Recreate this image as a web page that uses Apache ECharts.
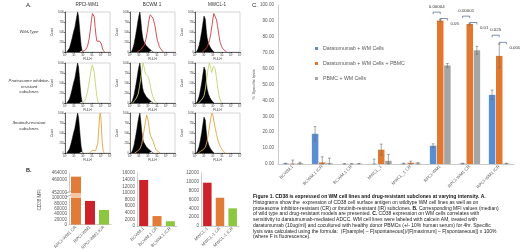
<!DOCTYPE html>
<html>
<head>
<meta charset="utf-8">
<script src="https://cdn.jsdelivr.net/npm/echarts@6/dist/echarts.min.js"></script>
<style>
html, body { margin: 0; padding: 0; background: #fff; }
#main { width: 520px; height: 252px; }
</style>
</head>
<body>
<div id="main"></div>
<script>
// ---- A. histograms (x in log decades, y in % of max count)
var histCols = ['RPCI-WM1', 'BCWM.1', 'MWCL-1'];
var histRows = [['Wild-Type'], ['Proteasome inhibitor-', 'resistant', 'subclones'], ['Ibrutinib-resistant', 'subclones']];
var histColors = ['#cf3d43', '#c5d472', '#e3a43e'];
var histTicks = ['10\u2070', '10\u00b9', '10\u00b2', '10\u00b3', '10\u2074', '10\u2075'];
var countTicks = ['0', '250', '500', '750', '1000'];

var isoRpci = [[0.2,0],[0.35,4],[0.5,10],[0.65,22],[0.8,35],[0.95,50],[1.1,62],[1.2,75],[1.3,88],[1.4,100],[1.5,90],[1.6,65],[1.7,38],[1.8,15],[1.9,4],[2.0,0]];
var isoBcwm = [[0.15,0],[0.3,8],[0.45,20],[0.6,38],[0.75,58],[0.9,80],[1.0,92],[1.1,100],[1.2,80],[1.3,55],[1.4,38],[1.5,28],[1.65,22],[1.8,16],[1.95,12],[2.1,9],[2.25,6],[2.4,3],[2.6,0]];
var isoMwcl = [[0.15,0],[0.3,6],[0.45,16],[0.6,32],[0.75,52],[0.9,75],[1.0,90],[1.05,95],[1.15,82],[1.25,55],[1.35,35],[1.5,22],[1.65,14],[1.8,8],[1.95,4],[2.1,0]];

var wtRpci = [[1.9,0],[2.1,2],[2.3,6],[2.5,14],[2.7,35],[2.85,62],[2.95,82],[3.05,96],[3.15,100],[3.25,88],[3.35,62],[3.45,40],[3.55,27],[3.65,22],[3.75,24],[3.85,27],[3.95,26],[4.05,20],[4.15,10],[4.25,4],[4.4,0]];
var wtBcwm = [[0.8,0],[1.0,3],[1.2,6],[1.4,10],[1.6,18],[1.8,35],[1.95,55],[2.05,72],[2.15,85],[2.25,93],[2.35,88],[2.45,95],[2.55,85],[2.65,80],[2.75,68],[2.85,55],[2.95,40],[3.05,28],[3.15,22],[3.25,14],[3.4,8],[3.55,3],[3.7,0]];
var wtMwcl = [[0.8,0],[1.0,4],[1.2,8],[1.4,14],[1.6,28],[1.75,45],[1.9,68],[2.0,85],[2.1,96],[2.2,100],[2.3,92],[2.4,80],[2.5,66],[2.6,50],[2.7,36],[2.8,24],[2.95,14],[3.1,8],[3.3,3],[3.5,0]];

var crRpci = [[1.9,0],[2.05,2],[2.2,6],[2.35,14],[2.5,28],[2.65,48],[2.8,70],[2.95,88],[3.05,95],[3.15,90],[3.25,76],[3.35,55],[3.45,34],[3.55,16],[3.65,5],[3.75,0]];
var crBcwm = [[0.3,0],[0.5,6],[0.7,12],[0.9,22],[1.05,40],[1.2,62],[1.35,85],[1.45,100],[1.55,92],[1.65,78],[1.75,72],[1.85,74],[1.95,70],[2.05,66],[2.15,55],[2.3,38],[2.45,22],[2.6,12],[2.75,5],[2.95,0]];
var crMwcl = [[0.4,0],[0.6,5],[0.8,10],[1.0,18],[1.15,35],[1.3,60],[1.45,85],[1.6,100],[1.75,88],[1.85,76],[1.95,80],[2.05,92],[2.15,95],[2.25,85],[2.4,60],[2.55,35],[2.7,15],[2.85,5],[2.95,0]];

var irRpci = [[2.7,0],[2.9,3],[3.1,7],[3.25,10],[3.4,6],[3.55,8],[3.65,25],[3.75,60],[3.85,92],[3.92,100],[4.0,85],[4.08,50],[4.16,20],[4.25,4],[4.35,0]];
var irBcwm = [[0.5,0],[0.8,4],[1.1,10],[1.3,22],[1.45,40],[1.6,62],[1.75,82],[1.85,95],[1.95,90],[2.05,78],[2.15,58],[2.25,45],[2.35,42],[2.45,40],[2.6,28],[2.75,16],[2.9,8],[3.1,3],[3.35,0]];
var irMwcl = [[0.35,0],[0.6,4],[0.9,8],[1.15,15],[1.35,30],[1.5,50],[1.65,72],[1.78,90],[1.9,100],[2.0,94],[2.1,80],[2.25,62],[2.4,46],[2.55,32],[2.7,22],[2.85,14],[3.05,7],[3.2,3],[3.35,0]];

var isoSets = [isoRpci, isoBcwm, isoMwcl];
var stainSets = [[wtRpci, wtBcwm, wtMwcl], [crRpci, crBcwm, crMwcl], [irRpci, irBcwm, irMwcl]];

// ---- B. CD38 MFI
var mfiRpciNames = ['RPCI-WM1 CR', 'RPCI-WM1', 'RPCI-WM1 ICR'];
var mfiRpci = [461800, 89000, 55000];
var mfiBcwmNames = ['BCWM.1', 'BCWM.1 CR', 'BCWM.1 ICR'];
var mfiBcwm = [13900, 3000, 1450];
var mfiMwclNames = ['MWCL-1', 'MWCL-1 CR', 'MWCL-1 ICR'];
var mfiMwcl = [9800, 6400, 4000];
var mfiLowTicks = [0, 20000, 40000, 60000, 80000, 100000];
var mfiHighTicks = [452000, 460000, 464000];
var rpciColors = ['#e07b39', '#cc2229', '#8dc63f'];
var wtFirstColors = ['#cc2229', '#e07b39', '#8dc63f'];

// ---- C. specific lysis
var lysisCats = ['BCWM.1', 'BCWM.1 ICR', 'BCWM.1 CR', 'MWCL_1', 'MWCL_1 CR', 'RPCI-WM1', 'RPCI-WM1 CR', 'RPCI-WM1 ICR'];
var seriesNames = ['Daratumumab + WM Cells', 'Daratumumab + WM Cells + PBMC', 'PBMC + WM Cells'];
var daraWm = [0.3, 19.0, 0.1, 0.1, 0.2, 11.5, 0.3, 43.5];
var daraWmErr = [0.2, 4.5, 0.1, 3.0, 0.3, 1.2, 0.2, 3.0];
var daraWmPbmc = [0.2, 1.0, 0.1, 9.0, 0.8, 90.3, 88.0, 68.0];
var daraWmPbmcErr = [2.3, 3.5, 0.1, 3.5, 1.0, 0.7, 0.6, 7.5];
var pbmcWm = [0.5, 0.5, 0.2, 2.0, 0.4, 62.0, 71.5, 0.3];
var pbmcWmErr = [0.6, 3.2, 0.1, 4.0, 0.5, 1.2, 2.5, 0.2];
var lysisColors = ['#5b8ed0', '#e2782f', '#a5a5a5'];
var pLabels = ['0.00004', '0.05', '0.00001', '0.01', '0.025', '0.0004'];
var pCats = [5, 5, 6, 6, 7, 7];
var pHeights = [95.5, 91.5, 93, 89, 81, 76.5];

var captionLines = [
    '{b|Figure 1. CD38 is expressed on WM cell lines and drug-resistant subclones at varying intensity. A.}',
    'Histograms show the  expression of CD38 cell surface antigen on wildtype WM cell lines as well as on',
    'proteasome inhibitor-resistant (CR) or ibrutinib-resistant (IR) subclones. {b|B.} Corresponding MFI values (median)',
    'of wild type and drug-resistant models are presented. {b|C.} CD38 expression on WM cells correlates with',
    'sensitivity to daratumumab-mediated ADCC. WM cell lines were labeled with calcein AM, treated with',
    'daratumumab (10ug/ml) and cocultured with healthy donor PBMCs (+/- 10% human serum) for 4hr. Specific',
    'lysis was calculated using the formula:  (F[sample] \u2013 F[spontaneous])/(F[maximum] \u2013 F[spontaneous]) x 100%',
    '(where F is fluorescence).'
];

var FONT = 'Liberation Sans, Arial, sans-serif';
var GRAY = '#595959';
var BAR_W = 6.5;

var chart = echarts.init(document.getElementById('main'));

var grids = [], xAxes = [], yAxes = [], series = [];

// histogram grids 0..8
var histLeft = [65, 130, 195];
var histTop = [12, 63, 113];
for (var r = 0; r < 3; r++) {
    for (var c = 0; c < 3; c++) {
        var gi = grids.length;
        grids.push({ left: histLeft[c], top: histTop[r], width: 45, height: 40, show: true, borderColor: '#aaa', borderWidth: 0.5 });
        xAxes.push({
            gridIndex: gi, type: 'value', min: 0, max: 5, interval: 1,
            name: 'FL4-H', nameLocation: 'middle', nameGap: 6,
            nameTextStyle: { fontSize: 3, color: '#333', fontFamily: FONT },
            axisLine: { lineStyle: { color: '#000', width: 0.6 } },
            axisTick: { length: 1.2, lineStyle: { color: '#000', width: 0.5 } },
            axisLabel: { fontSize: 2.6, margin: 1.5, color: '#333', fontFamily: FONT,
                formatter: function (v) { return histTicks[v]; } },
            splitLine: { show: false }
        });
        yAxes.push({
            gridIndex: gi, type: 'value', min: 0, max: 100, interval: 25,
            name: 'Count', nameLocation: 'middle', nameGap: 6, nameRotate: 90,
            nameTextStyle: { fontSize: 3, color: '#333', fontFamily: FONT },
            axisLine: { show: true, lineStyle: { color: '#000', width: 0.6 } },
            axisTick: { show: true, length: 1.2, lineStyle: { color: '#000', width: 0.5 } },
            axisLabel: { fontSize: 2.6, margin: 1.2, color: '#333', fontFamily: FONT,
                formatter: function (v) { return countTicks[v / 25]; } },
            splitLine: { show: false }
        });
        series.push({
            type: 'line', xAxisIndex: gi, yAxisIndex: gi, data: isoSets[c],
            symbol: 'none', silent: true,
            lineStyle: { color: '#000', width: 0.5 },
            areaStyle: { color: '#000', opacity: 1 }
        });
        series.push({
            type: 'line', xAxisIndex: gi, yAxisIndex: gi, data: stainSets[r][c],
            symbol: 'none', silent: true, z: 3,
            lineStyle: { color: histColors[r], width: 0.9 }
        });
    }
}

function plain(v) { return String(v); }
function catAxis(gi, names, show) {
    return {
        gridIndex: gi, type: 'category', data: names,
        axisLine: { show: show, lineStyle: { color: '#bfbfbf', width: 0.8 } },
        axisTick: { show: false },
        axisLabel: { show: show, rotate: 45, fontSize: 4.4, margin: 2, color: GRAY, fontFamily: FONT, interval: 0 }
    };
}
function valAxis(gi, min, max, interval, extra) {
    var a = {
        gridIndex: gi, type: 'value', min: min, max: max, interval: interval,
        axisLine: { show: true, lineStyle: { color: '#bfbfbf', width: 0.8 } },
        axisTick: { show: false },
        axisLabel: { fontSize: 4.6, margin: 2, color: GRAY, fontFamily: FONT, formatter: plain },
        splitLine: { show: false }
    };
    for (var k in extra) a[k] = extra[k];
    return a;
}
function coloredItems(vals, colors) {
    return vals.map(function (v, i) { return { value: v, itemStyle: { color: colors[i] } }; });
}

// B: RPCI upper (9), break band (10), lower (11)
grids.push({ left: 69, top: 173, width: 42, height: 20 });
xAxes.push(catAxis(9, mfiRpciNames, false));
yAxes.push(valAxis(9, mfiHighTicks[0], mfiHighTicks[mfiHighTicks.length - 1], 4000, {
    axisLabel: { fontSize: 4.6, margin: 2, color: GRAY, fontFamily: FONT, customValues: mfiHighTicks, formatter: plain }
}));
series.push({ type: 'bar', xAxisIndex: 9, yAxisIndex: 9, barWidth: 10, clip: true, silent: true,
    data: coloredItems(mfiRpci.map(function (v) { return v > mfiHighTicks[0] ? v : '-'; }), rpciColors) });

grids.push({ left: 69, top: 193, width: 42, height: 5 });
xAxes.push(catAxis(10, mfiRpciNames, false));
yAxes.push({ gridIndex: 10, type: 'value', min: 0, max: 1, show: false });
series.push({ type: 'bar', xAxisIndex: 10, yAxisIndex: 10, barWidth: 10, silent: true,
    data: mfiRpci.map(function (v) { return v > mfiLowTicks[mfiLowTicks.length - 1] ? 1 : '-'; }),
    itemStyle: { color: '#f4c6a2' } });

grids.push({ left: 69, top: 198, width: 42, height: 28 });
xAxes.push(catAxis(11, mfiRpciNames, true));
yAxes.push(valAxis(11, 0, 100000, 20000, {}));
series.push({ type: 'bar', xAxisIndex: 11, yAxisIndex: 11, barWidth: 10, clip: true, silent: true,
    data: coloredItems(mfiRpci, rpciColors) });

// B: BCWM (12), MWCL (13)
grids.push({ left: 137, top: 173, width: 40, height: 53 });
xAxes.push(catAxis(12, mfiBcwmNames, true));
yAxes.push(valAxis(12, 0, 16000, 2000, {}));
series.push({ type: 'bar', xAxisIndex: 12, yAxisIndex: 12, barWidth: 9, silent: true,
    data: coloredItems(mfiBcwm, wtFirstColors) });

grids.push({ left: 201, top: 173, width: 38, height: 53 });
xAxes.push(catAxis(13, mfiMwclNames, true));
yAxes.push(valAxis(13, 0, 12000, 2000, {}));
series.push({ type: 'bar', xAxisIndex: 13, yAxisIndex: 13, barWidth: 8.5, silent: true,
    data: coloredItems(mfiMwcl, wtFirstColors) });

// C (14)
var CG = 14;
grids.push({ left: 278, top: 5, width: 236, height: 159 });
xAxes.push(catAxis(CG, lysisCats, true));
xAxes[CG].axisLabel.fontSize = 4.4;
yAxes.push(valAxis(CG, 0, 100, 10, {
    axisLabel: { fontSize: 4.6, margin: 4, color: GRAY, fontFamily: FONT,
        formatter: function (v) { return v.toFixed(2); } },
    name: '% Specific lysis', nameLocation: 'middle', nameGap: 21, nameRotate: 90,
    nameTextStyle: { fontSize: 4.4, color: GRAY, fontFamily: FONT }
}));

var lysisVals = [daraWm, daraWmPbmc, pbmcWm];
var lysisErrs = [daraWmErr, daraWmPbmcErr, pbmcWmErr];
lysisVals.forEach(function (vals, s) {
    series.push({ name: seriesNames[s], type: 'bar', xAxisIndex: CG, yAxisIndex: CG,
        barWidth: BAR_W, barGap: '10%', data: vals, itemStyle: { color: lysisColors[s] } });
});
lysisVals.forEach(function (vals, s) {
    series.push({
        type: 'custom', xAxisIndex: CG, yAxisIndex: CG, silent: true, z: 4,
        data: vals.map(function (v, i) { return [i, Math.max(0, v - lysisErrs[s][i]), v + lysisErrs[s][i]]; }),
        renderItem: function (params, api) {
            var lo = api.coord([api.value(0), api.value(1)]);
            var hi = api.coord([api.value(0), api.value(2)]);
            var x = lo[0] + (s - 1) * BAR_W * 1.1;
            var st = { stroke: '#6b6b6b', lineWidth: 0.6 };
            return { type: 'group', children: [
                { type: 'line', shape: { x1: x, y1: lo[1], x2: x, y2: hi[1] }, style: st },
                { type: 'line', shape: { x1: x - 1.4, y1: hi[1], x2: x + 1.4, y2: hi[1] }, style: st },
                { type: 'line', shape: { x1: x - 1.4, y1: lo[1], x2: x + 1.4, y2: lo[1] }, style: st }
            ] };
        }
    });
});

chart.setOption({
    animation: false,
    grid: grids,
    xAxis: xAxes,
    yAxis: yAxes,
    legend: {
        data: seriesNames, orient: 'vertical', left: 310, top: 41, itemGap: 10,
        itemWidth: 3, itemHeight: 3, icon: 'rect',
        textStyle: { fontSize: 5.2, color: GRAY, fontFamily: FONT }
    },
    series: series
});

// text and annotations
var g = [];
function txt(x, y, s, opt) {
    var style = { text: s, x: x, y: y, fill: '#333', font: '5px ' + FONT, textAlign: 'left', textVerticalAlign: 'middle' };
    for (var k in opt) style[k] = opt[k];
    g.push({ type: 'text', silent: true, style: style });
}
txt(26, 5, 'A.', { font: '6px ' + FONT, fill: '#222' });
txt(26, 170, 'B.', { font: 'bold 5.5px ' + FONT, fill: '#222' });
txt(252, 5, 'C.', { font: '6px ' + FONT, fill: '#222' });
histCols.forEach(function (name, c) {
    txt(histLeft[c] + 22, 5, name, { textAlign: 'center', font: '4.6px ' + FONT });
});
var rowY = [32, 81, 123];
histRows.forEach(function (lines, r) {
    lines.forEach(function (line, k) {
        txt(29, rowY[r] + k * 5.5, line, { textAlign: 'center', font: 'italic 4.3px ' + FONT });
    });
});
g.push({ type: 'text', silent: true, x: 40, y: 200, rotation: Math.PI / 2,
    style: { text: 'CD38 MFI', fill: GRAY, font: '4.6px ' + FONT, textAlign: 'center', textVerticalAlign: 'middle' } });

// axis break marks
[[66, 192], [66, 196]].forEach(function (p) {
    g.push({ type: 'polyline', silent: true, shape: { points: [[p[0], p[1] + 1], [p[0] + 5, p[1] - 1]] },
        style: { stroke: '#8a8a8a', lineWidth: 0.7 } });
});

// p-value brackets
for (var i = 0; i < pLabels.length; i++) {
    var cat = pCats[i];
    var first = i % 2 === 0;
    var c0 = chart.convertToPixel({ gridIndex: CG }, [cat, pHeights[i]]);
    var xa = c0[0] + (first ? -1 : 0) * BAR_W * 1.1;
    var xb = c0[0] + (first ? 0 : 1) * BAR_W * 1.1;
    var y = c0[1];
    g.push({ type: 'polyline', silent: true,
        shape: { points: [[xa, y + 2], [xa, y], [xb, y], [xb, y + 2]] },
        style: { stroke: '#2e4a7d', lineWidth: 0.6 } });
    if (first) {
        txt((xa + xb) / 2, y - 5, pLabels[i], { textAlign: 'center', font: '4.4px ' + FONT });
    } else {
        txt(xb + 3, y + 5, pLabels[i], { textAlign: 'left', font: '4.4px ' + FONT });
    }
}

// caption
captionLines.forEach(function (line, k) {
    g.push({ type: 'text', silent: true, x: 253, y: 197 + k * 5.7,
        style: { text: line, fill: '#222', font: '5px ' + FONT, textVerticalAlign: 'middle',
            rich: { b: { fontWeight: 'bold', fontSize: 5, fontFamily: FONT, fill: '#111' } } } });
});

chart.setOption({ graphic: g });
</script>
</body>
</html>
